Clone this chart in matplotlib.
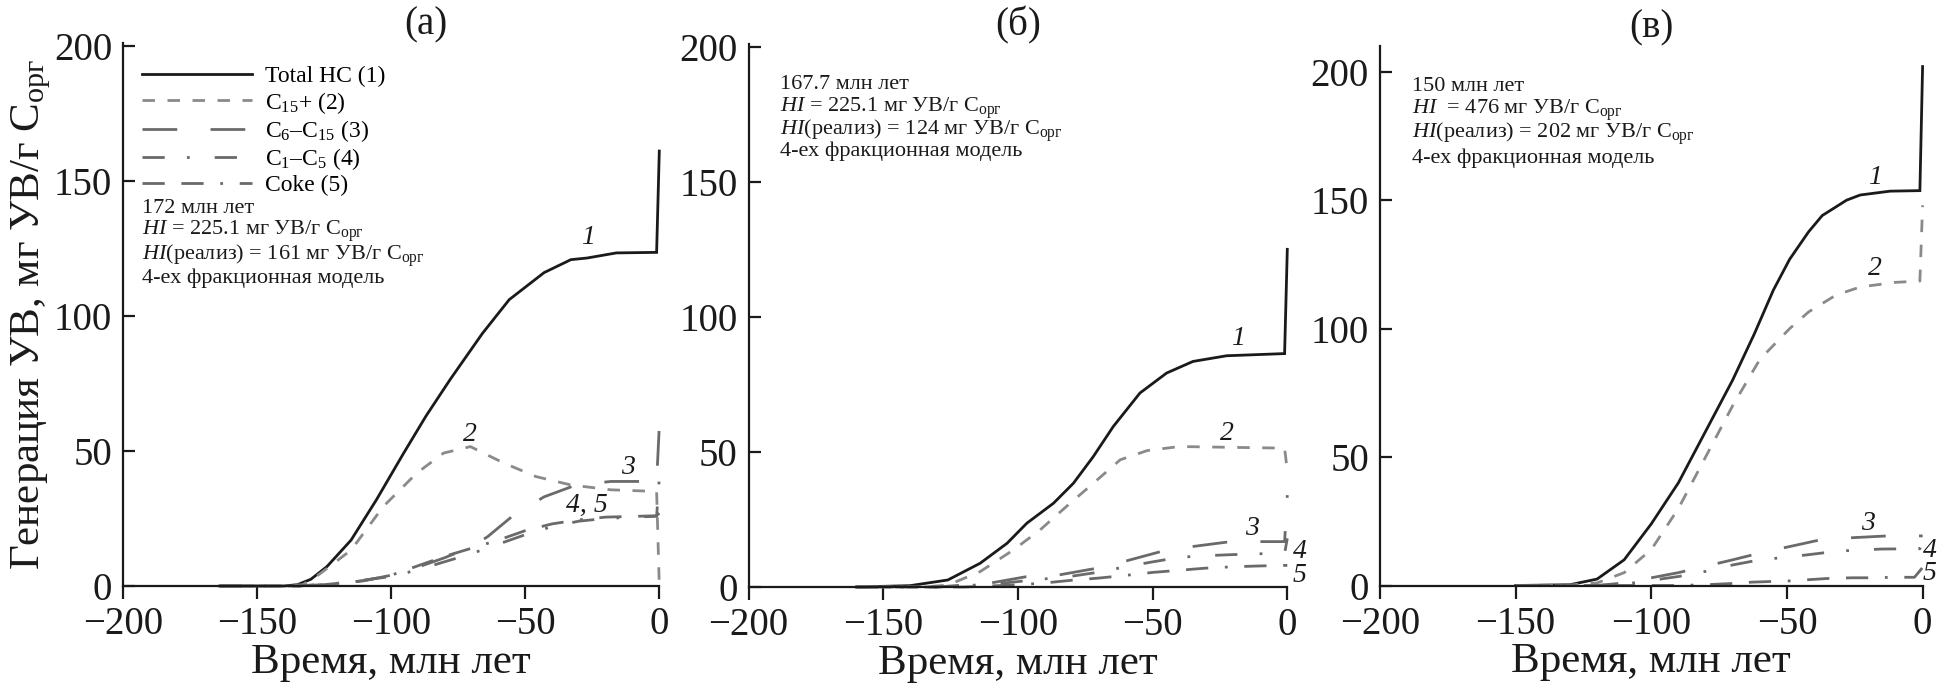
import matplotlib
matplotlib.use("Agg")
import matplotlib.pyplot as plt

plt.rcParams['font.family'] = ['Liberation Serif', 'DejaVu Serif']
plt.rcParams['mathtext.fontset'] = 'custom'
plt.rcParams['mathtext.rm'] = 'Liberation Serif'
plt.rcParams['mathtext.it'] = 'Liberation Serif:italic'
plt.rcParams['axes.unicode_minus'] = True

# ---------------- data ----------------
# Panel (a)
t_total_a = [-164, -140, -135, -130, -124, -115, -105.5, -95.5, -87, -78, -66, -56, -43, -33, -27, -16, -1, 0]
total_a = [0, 0, 0.5, 2.5, 7.2, 17, 32, 49, 63, 76.5, 93.5, 106, 116, 120.8, 121.4, 123.3, 123.5, 161]
t_c15_a = [-164, -140, -133, -128, -115, -103, -90.5, -80.5, -70.5, -58, -46, -33, -18, -1, 0]
c15_a = [0, 0, 0.5, 3.5, 13.3, 29.4, 41.8, 49.2, 51.6, 45.5, 40.5, 37.4, 35.6, 35, 0]
t_c6_a = [-164, -135, -120, -110, -100, -90, -80, -70, -64, -55, -43, -31, -18, -6, -1, 0]
c6_a = [0, 0, 0.8, 2, 4, 7, 10.5, 14.5, 18.3, 25.7, 33, 37.4, 38.7, 38.7, 38.7, 59]
t_c1_a = [-164, -135, -120, -100, -90, -80, -70, -60, -50, -40, -30, -20, -10, -1, 0]
c1_a = [0, 0, 1, 3.5, 6, 9, 12, 15.5, 19, 22, 24, 25, 25.5, 25.8, 40]
t_coke_a = [-164, -130, -110, -100, -90, -80, -70, -60, -50, -40, -30, -20, -1, 0]
coke_a = [0, 0, 2, 4, 7.5, 11, 14, 17, 20.5, 23, 24.5, 25.5, 26, 27]

# Panel (b)
t_total_b = [-160, -140, -126, -114, -104, -96.7, -86.8, -79.4, -72, -64.6, -54.7, -44.8, -35, -22.5, -1, 0]
total_b = [0, 0.5, 2.6, 8.8, 16.2, 23.6, 31, 38.4, 48.3, 59.4, 71.8, 79.2, 83.5, 85.6, 86.4, 125]
t_c15_b = [-160, -135, -126, -114, -101.7, -91.8, -82, -72, -62, -52, -40, -27.5, -1, 0]
c15_b = [0, 0, 0.7, 5.7, 13.7, 21.1, 29.8, 38.4, 47.1, 50.5, 52, 51.8, 51.4, 43]
t_c6_b = [-160, -130, -110, -97, -84, -71, -60, -47, -35, -21, -9, -1, 0]
c6_b = [0, 0, 1.5, 3.8, 4.6, 6.9, 9.6, 13.1, 15, 16.8, 16.8, 16.8, 34]
t_c1_b = [-160, -130, -110, -100, -90, -80, -70, -60, -50, -40, -30, -20, -10, -1, 0]
c1_b = [0, 0, 1, 2, 3, 4, 5.5, 7.5, 9.3, 11, 11.6, 12, 12.3, 12.4, 18]
t_coke_b = [-160, -120, -100, -90, -80, -70, -60, -50, -40, -30, -20, -10, -1, 0]
coke_b = [0, 0, 0.8, 1.5, 2.5, 3.3, 4.3, 5.4, 6.2, 7, 7.5, 7.8, 8, 8]

# Panel (c)
t_total_c = [-150, -130, -120, -110, -100, -90, -80, -70, -62, -55, -49, -42, -37, -28, -23, -12, -1, 0]
total_c = [0, 0.3, 2.5, 10, 24, 40, 60, 80, 98, 115, 127, 137.7, 144, 150, 152, 153.5, 153.7, 202]
t_c15_c = [-150, -130, -120, -110, -100, -90, -80, -70, -60, -49, -42, -32, -23, -10, -1, 0]
c15_c = [0, 0.2, 1, 5, 14, 30, 50, 70, 88, 100, 106.5, 113, 116.2, 118, 118.5, 148]
t_c6_c = [-150, -120, -110, -100, -90, -80, -70, -62, -51, -38, -26, -13, -1, 0]
c6_c = [0, 0, 1, 3, 5, 7.5, 10, 12.1, 14.7, 17.7, 18.6, 19.3, 19.3, 19.3]
t_c1_c = [-150, -120, -110, -100, -90, -80, -70, -60, -52, -42, -32, -24, -15, -1, 0]
c1_c = [0, 0, 0.5, 2, 3.5, 5.5, 8, 10, 10.8, 12, 13.3, 13.8, 14.2, 14.3, 17.5]
t_coke_c = [-150, -90, -80, -70, -63, -49, -34, -26, -18, -11, -3, 0]
coke_c = [0, 0, 0.3, 0.8, 1.3, 1.8, 2.8, 3, 3, 3.2, 3.2, 7]

legend_labels = ['Total HC (1)', 'C$_{15}$+ (2)', 'C$_6$–C$_{15}$ (3)', 'C$_1$–C$_5$ (4)', 'Coke (5)']
panel_titles = ['(а)', '(б)', '(в)']
xticks = [-200, -150, -100, -50, 0]
yticks = [0, 50, 100, 150, 200]

notes = [
    ['172 млн лет', '$HI$ = 225.1 мг УВ/г С$_{\\mathrm{орг}}$',
     '$HI$(реализ) = 161 мг УВ/г С$_{\\mathrm{орг}}$', '4-ех фракционная модель'],
    ['167.7 млн лет', '$HI$ = 225.1 мг УВ/г С$_{\\mathrm{орг}}$',
     '$HI$(реализ) = 124 мг УВ/г С$_{\\mathrm{орг}}$', '4-ех фракционная модель'],
    ['150 млн лет', '$HI$  = 476 мг УВ/г С$_{\\mathrm{орг}}$',
     '$HI$(реализ) = 202 мг УВ/г С$_{\\mathrm{орг}}$', '4-ех фракционная модель'],
]

# ---------------- styles ----------------
styles = [
    dict(color='#1a1a1a', lw=2.0, ls='-'),
    dict(color='#8a8a8a', lw=2.0, ls=(0, (4.5, 4.5))),
    dict(color='#6a6a6a', lw=2.0, ls=(0, (12.5, 12))),
    dict(color='#6a6a6a', lw=2.0, ls=(0, (8, 8, 1, 9))),
    dict(color='#6a6a6a', lw=2.0, ls=(0, (8, 6, 8, 6, 1, 6))),
]

W, H = 1945, 697
fig = plt.figure(figsize=(W / 100, H / 100), dpi=100)

panels = [
    dict(rect=[123.3 / W, (H - 586) / H, (659.3 - 123.3) / W, (586 - 43) / H], ylim=201,
         data=[(t_total_a, total_a), (t_c15_a, c15_a), (t_c6_a, c6_a), (t_c1_a, c1_a), (t_coke_a, coke_a)],
         labels=[('1', -26.5, 129), ('2', -70.6, 56), ('3', -11.6, 44), ('4, 5', -27, 30)],
         note_x=-193.1, note_y=[139.7, 131.2, 122.3, 113.8], title_x=0.564),
    dict(rect=[748.5 / W, (H - 587) / H, (1287.3 - 748.5) / W, (587 - 44) / H], ylim=201,
         data=[(t_total_b, total_b), (t_c15_b, c15_b), (t_c6_b, c6_b), (t_c1_b, c1_b), (t_coke_b, coke_b)],
         labels=[('1', -18.2, 92), ('2', -22.5, 57), ('3', -13.2, 21.5), ('4', 4.7, 13.1), ('5', 4.7, 4.4)],
         note_x=-188.2, note_y=[186, 177.4, 168.8, 161.3], title_x=0.5),
    dict(rect=[1380 / W, (H - 585.5) / H, (1922.6 - 1380) / W, (585.5 - 46) / H], ylim=210,
         data=[(t_total_c, total_c), (t_c15_c, c15_c), (t_c6_c, c6_c), (t_c1_c, c1_c), (t_coke_c, coke_c)],
         labels=[('1', -17.6, 159), ('2', -17.6, 123.4), ('3', -20, 24), ('4', 2.6, 13.6), ('5', 2.6, 4.8)],
         note_x=-188.2, note_y=[194.2, 185, 176, 166.2], title_x=0.5),
]

for i, p in enumerate(panels):
    ax = fig.add_axes(p['rect'])
    lines = []
    for (t, v), st, lab in zip(p['data'], styles, legend_labels):
        ln, = ax.plot(t, v, clip_on=False, label=lab, solid_joinstyle='miter', **st)
        lines.append(ln)
    ax.set_xlim(-200, 0)
    ax.set_ylim(0, p['ylim'])
    ax.set_xticks(xticks)
    ax.set_yticks(yticks)
    for s in ['top', 'right']:
        ax.spines[s].set_visible(False)
    for s in ['left', 'bottom']:
        ax.spines[s].set_linewidth(1.6)
        ax.spines[s].set_color('#1a1a1a')
    ax.tick_params(axis='x', direction='out', length=9.5, width=1.6, labelsize=28, pad=5, colors='#1a1a1a')
    ax.tick_params(axis='y', direction='in', length=8.5, width=1.6, labelsize=28, pad=8, colors='#1a1a1a')
    ax.set_xlabel('Время, млн лет', fontsize=31, labelpad=0, color='#1a1a1a')
    if i == 0:
        ax.set_ylabel('Генерация УВ, мг УВ/г С$_{\\mathrm{орг}}$', fontsize=31, labelpad=1, color='#1a1a1a')
    ax.text(p['title_x'], 1.0, panel_titles[i], transform=ax.transAxes, ha='center', va='bottom',
            fontsize=28, color='#1a1a1a')
    for txt, x, y in p['labels']:
        ax.text(x, y, txt, fontsize=20, fontstyle='italic', ha='center', va='center', color='#1a1a1a')
    for txt, y in zip(notes[i], p['note_y']):
        ax.text(p['note_x'], y, txt, fontsize=16, ha='left', va='center', color='#1a1a1a')
    if i == 0:
        ax.legend(handles=lines, loc='upper left', bbox_to_anchor=(0.034, 0.958), frameon=False,
                  fontsize=17, handlelength=4.7, handletextpad=0.55, labelspacing=0.1,
                  borderpad=0, borderaxespad=0)

fig.savefig('out.png', dpi=100)
